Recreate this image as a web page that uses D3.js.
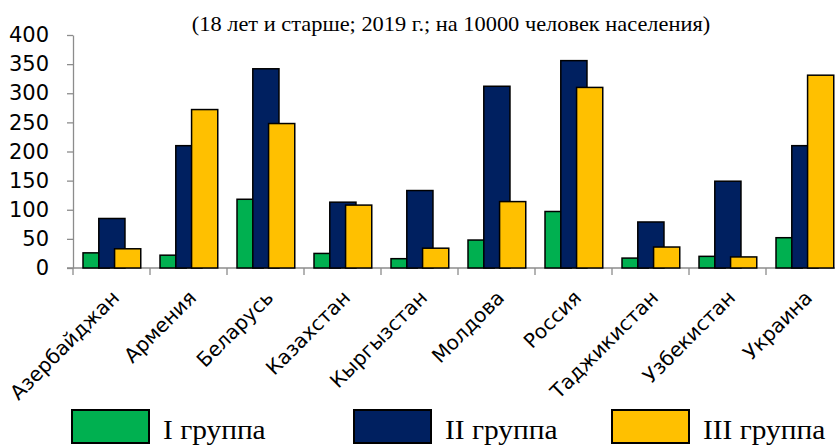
<!DOCTYPE html>
<html>
<head>
<meta charset="utf-8">
<style>
    body { margin: 0; background: #fff; }
    svg { display: block; }
    .axis .domain, .axis line { stroke: #8c8c8c; stroke-width: 1.3px; }
    .y .tick text { font-family: "DejaVu Sans", sans-serif; font-size: 21px; fill: #000; }
    .title { font-family: "Liberation Serif", "Times New Roman", serif; font-size: 20px; }
    .legend text { font-family: "Liberation Serif", "Times New Roman", serif; font-size: 28px; }
</style>
</head>
<body>
<svg width="835" height="446"></svg>
<script src="https://d3js.org/d3.v7.min.js"></script>
<script>
    // data
    let countries = ["Азербайджан", "Армения", "Беларусь", "Казахстан", "Кыргызстан",
        "Молдова", "Россия", "Таджикистан", "Узбекистан", "Украина"];
    let group1 = [26, 22, 118, 25, 16, 48, 97, 17, 20, 52];
    let group2 = [85, 210, 342, 113, 133, 312, 356, 79, 149, 210];
    let group3 = [33, 272, 248, 108, 34, 114, 310, 36, 19, 331];
    let seriesNames = ["I группа", "II группа", "III группа"];
    let yTicks = [0, 50, 100, 150, 200, 250, 300, 350, 400];

    let colors = ["#00b050", "#002060", "#ffc000"];
    let series = [group1, group2, group3];

    let svg = d3.select("svg");
    let margin = { top: 35, left: 73, bottom: 268 };

    let x = d3.scaleBand()
        .domain(countries)
        .range([margin.left, margin.left + 77 * countries.length])
        .padding(0);

    let y = d3.scaleLinear()
        .domain([0, 400])
        .range([margin.bottom, margin.top]);

    let bw = x.bandwidth();

    // title (serif text in the source is a bit wider, so stretch it)
    svg.append("text")
        .attr("class", "title")
        .attr("text-anchor", "middle")
        .attr("transform", "translate(451,31) scale(1.12,1)")
        .text("(18 лет и старше; 2019 г.; на 10000 человек населения)");

    // y axis
    svg.append("g")
        .attr("class", "y axis")
        .attr("transform", `translate(${margin.left},0)`)
        .call(d3.axisLeft(y).tickValues(yTicks).tickSize(6).tickPadding(18).tickSizeOuter(0));

    // x axis, ticks between categories
    let xAxis = svg.append("g")
        .attr("class", "x axis")
        .attr("transform", `translate(0,${margin.bottom})`);

    xAxis.append("line")
        .attr("x1", margin.left - 6)
        .attr("x2", x.range()[1])
        .attr("stroke", "#8c8c8c")
        .attr("stroke-width", 1.3);

    xAxis.selectAll(".sep")
        .data(countries)
        .join("line")
        .attr("class", "sep")
        .attr("x1", d => x(d))
        .attr("x2", d => x(d))
        .attr("y1", 0)
        .attr("y2", 7)
        .attr("stroke", "#8c8c8c")
        .attr("stroke-width", 1.3);

    xAxis.selectAll(".lbl")
        .data(countries)
        .join("text")
        .attr("class", "lbl")
        .attr("text-anchor", "end")
        .attr("font-family", "DejaVu Sans, sans-serif")
        .attr("font-size", 20)
        .attr("transform", d => `translate(${x(d) + bw / 2 + 9},${31}) rotate(-45)`)
        .text(d => d);

    // bars, drawn series by series so later ones overlap
    series.forEach(function (vals, i) {
        svg.append("g")
            .selectAll("rect")
            .data(vals)
            .join("rect")
            .attr("x", (d, j) => x(countries[j]) + bw * 0.13 + i * bw * 0.205)
            .attr("width", bw * 0.34)
            .attr("y", d => y(d))
            .attr("height", d => y(0) - y(d))
            .attr("fill", colors[i])
            .attr("stroke", "#000")
            .attr("stroke-width", 1.5);
    });

    // legend
    let legendX = [72, 354, 612];
    let legend = svg.append("g").attr("class", "legend");
    seriesNames.forEach(function (name, i) {
        legend.append("rect")
            .attr("x", legendX[i])
            .attr("y", 410)
            .attr("width", 77)
            .attr("height", 33)
            .attr("fill", colors[i])
            .attr("stroke", "#000")
            .attr("stroke-width", 2);
        legend.append("text")
            .attr("transform", `translate(${legendX[i] + 91},439) scale(1.05,1)`)
            .text(name);
    });
</script>
</body>
</html>
